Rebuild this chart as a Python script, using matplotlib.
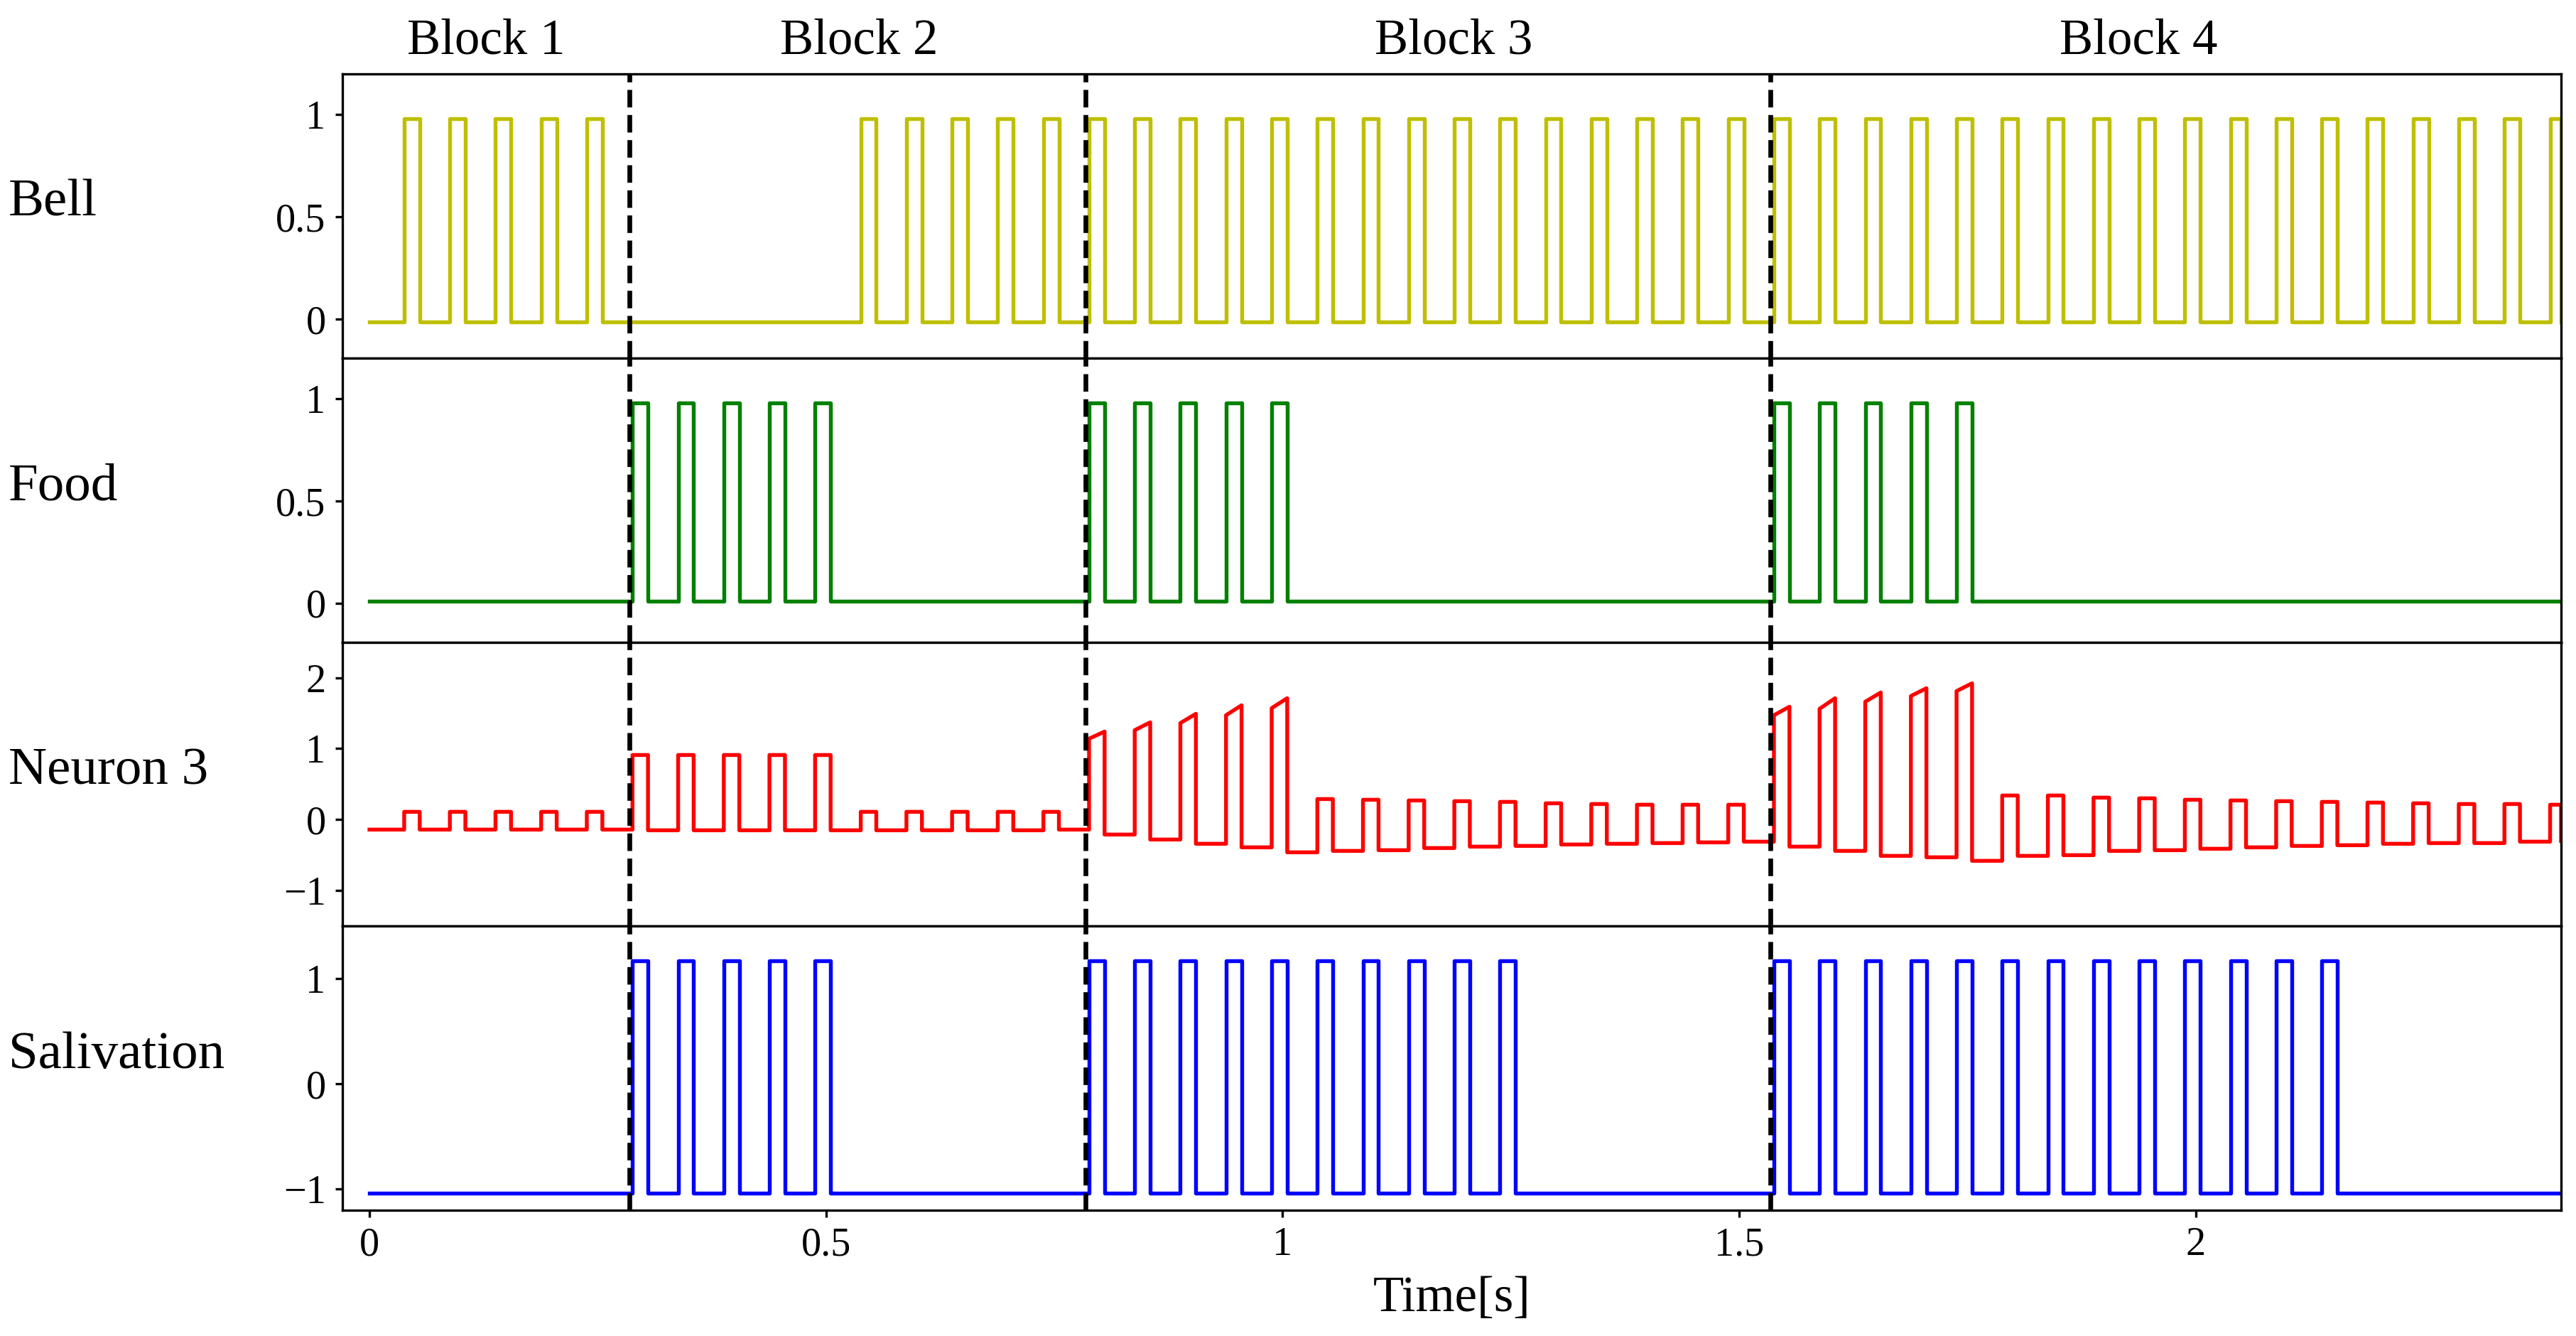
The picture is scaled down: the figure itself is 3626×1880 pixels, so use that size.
import numpy as np
import matplotlib.pyplot as plt
from matplotlib import transforms

plt.rcParams['font.family'] = ['Liberation Serif', 'DejaVu Serif']

# stimulus slots: one pulse onset every 0.05 s
onsets = [0.038, 0.088, 0.138, 0.188, 0.238, 0.288, 0.338, 0.388, 0.438, 0.488,
          0.538, 0.588, 0.638, 0.688, 0.738, 0.788, 0.838, 0.888, 0.938, 0.988,
          1.038, 1.088, 1.138, 1.188, 1.238, 1.288, 1.338, 1.388, 1.438, 1.488,
          1.538, 1.588, 1.638, 1.688, 1.738, 1.788, 1.838, 1.888, 1.938, 1.988,
          2.038, 2.088, 2.138, 2.188, 2.238, 2.288, 2.338, 2.388]
pulse_width = 0.017
t_end = 2.4

block_edges = [0.2845, 0.7845, 1.5345]
block_names = ["Block 1", "Block 2", "Block 3", "Block 4"]
block_label_x = [0.128, 0.536, 1.187, 1.937]

row_names = ["Bell", "Food", "Neuron 3", "Salivation"]

bell_slots = [0, 1, 2, 3, 4] + list(range(10, 48))
food_slots = [5, 6, 7, 8, 9, 15, 16, 17, 18, 19, 30, 31, 32, 33, 34]
saliv_slots = [5, 6, 7, 8, 9] + list(range(15, 25)) + list(range(30, 43))

bell_low, bell_high = -0.015, 0.98
food_low, food_high = 0.01, 0.98
saliv_low, saliv_high = -1.04, 1.17

neuron_base0 = -0.14
neuron_top_start = [0.11, 0.11, 0.11, 0.11, 0.11,
                    0.91, 0.91, 0.91, 0.91, 0.91,
                    0.11, 0.11, 0.11, 0.11, 0.11,
                    1.14, 1.26, 1.36, 1.47, 1.57,
                    0.29, 0.28, 0.27, 0.26, 0.25, 0.23, 0.22, 0.21, 0.21, 0.21,
                    1.47, 1.56, 1.66, 1.74, 1.81,
                    0.34, 0.34, 0.31, 0.30, 0.28, 0.27, 0.26, 0.25, 0.24, 0.23,
                    0.22, 0.22, 0.21]
neuron_top_end = [0.11, 0.11, 0.11, 0.11, 0.11,
                  0.91, 0.91, 0.91, 0.91, 0.91,
                  0.11, 0.11, 0.11, 0.11, 0.11,
                  1.24, 1.37, 1.49, 1.61, 1.71,
                  0.29, 0.28, 0.27, 0.26, 0.25, 0.23, 0.22, 0.21, 0.21, 0.21,
                  1.59, 1.71, 1.79, 1.85, 1.92,
                  0.34, 0.34, 0.31, 0.30, 0.28, 0.27, 0.26, 0.25, 0.24, 0.23,
                  0.22, 0.22, 0.21]
neuron_base_after = [-0.14, -0.14, -0.14, -0.14, -0.14,
                     -0.15, -0.15, -0.15, -0.15, -0.15,
                     -0.15, -0.15, -0.15, -0.15, -0.14,
                     -0.21, -0.28, -0.34, -0.39, -0.46,
                     -0.44, -0.43, -0.40, -0.38, -0.37, -0.35, -0.34, -0.33, -0.32, -0.31,
                     -0.38, -0.44, -0.51, -0.53, -0.58,
                     -0.51, -0.50, -0.44, -0.43, -0.41, -0.39, -0.37, -0.36, -0.34, -0.33,
                     -0.33, -0.31, -0.30]


def step_trace(slots, low, high):
    t, y = [0.0], [low]
    for k in slots:
        t0 = onsets[k]
        t1 = min(t0 + pulse_width, t_end)
        t += [t0, t0, t1, t1]
        y += [low, high, high, low]
    if t[-1] < t_end:
        t.append(t_end)
        y.append(low)
    return t, y


def neuron_trace():
    t, y = [0.0], [neuron_base0]
    prev = neuron_base0
    for k in range(len(onsets)):
        t0 = onsets[k]
        t1 = min(t0 + pulse_width, t_end)
        t += [t0, t0, t1, t1]
        y += [prev, neuron_top_start[k], neuron_top_end[k], neuron_base_after[k]]
        prev = neuron_base_after[k]
    if t[-1] < t_end:
        t.append(t_end)
        y.append(prev)
    return t, y


traces = [step_trace(bell_slots, bell_low, bell_high),
          step_trace(food_slots, food_low, food_high),
          neuron_trace(),
          step_trace(saliv_slots, saliv_low, saliv_high)]
colors = ['y', 'g', 'r', 'b']
ylims = [(-0.19, 1.2), (-0.19, 1.2), (-1.5, 2.5), (-1.2, 1.5)]
yticks = [[0, 0.5, 1], [0, 0.5, 1], [-1, 0, 1, 2], [-1, 0, 1]]

fig, axes = plt.subplots(4, 1, sharex=True, figsize=(3626 / 300, 1880 / 300), dpi=300)
fig.subplots_adjust(left=0.1328, right=0.9942, top=0.9447, bottom=0.0941, hspace=0)

for i, ax in enumerate(axes):
    t, y = traces[i]
    ax.plot(t, y, color=colors[i], lw=1.3)
    for xe in block_edges:
        ax.axvline(xe, color='k', ls='--', lw=1.6)
    ax.set_ylim(*ylims[i])
    ax.set_yticks(yticks[i])
    ax.set_yticklabels([f"{v:g}".replace('-', '\u2212') for v in yticks[i]])
    ax.tick_params(labelsize=13.5, length=2.5, pad=3)
    if i < 3:
        ax.tick_params(axis='x', bottom=False)
    pos = ax.get_position()
    fig.text(12 / 3626, (pos.y0 + pos.y1) / 2, row_names[i],
             ha='left', va='baseline', fontsize=18)

axes[0].set_xlim(-0.03, 2.4)
axes[-1].set_xticks([0, 0.5, 1, 1.5, 2])
axes[-1].set_xticklabels(['0', '0.5', '1', '1.5', '2'])
axes[-1].set_xlabel('Time[s]', fontsize=17, labelpad=4)

trans = transforms.blended_transform_factory(axes[0].transData, fig.transFigure)
for xl, name in zip(block_label_x, block_names):
    axes[0].text(xl, 1 - 76 / 1880, name, transform=trans, ha='center',
                 va='baseline', fontsize=17)

fig.savefig('out.png', dpi=300)
